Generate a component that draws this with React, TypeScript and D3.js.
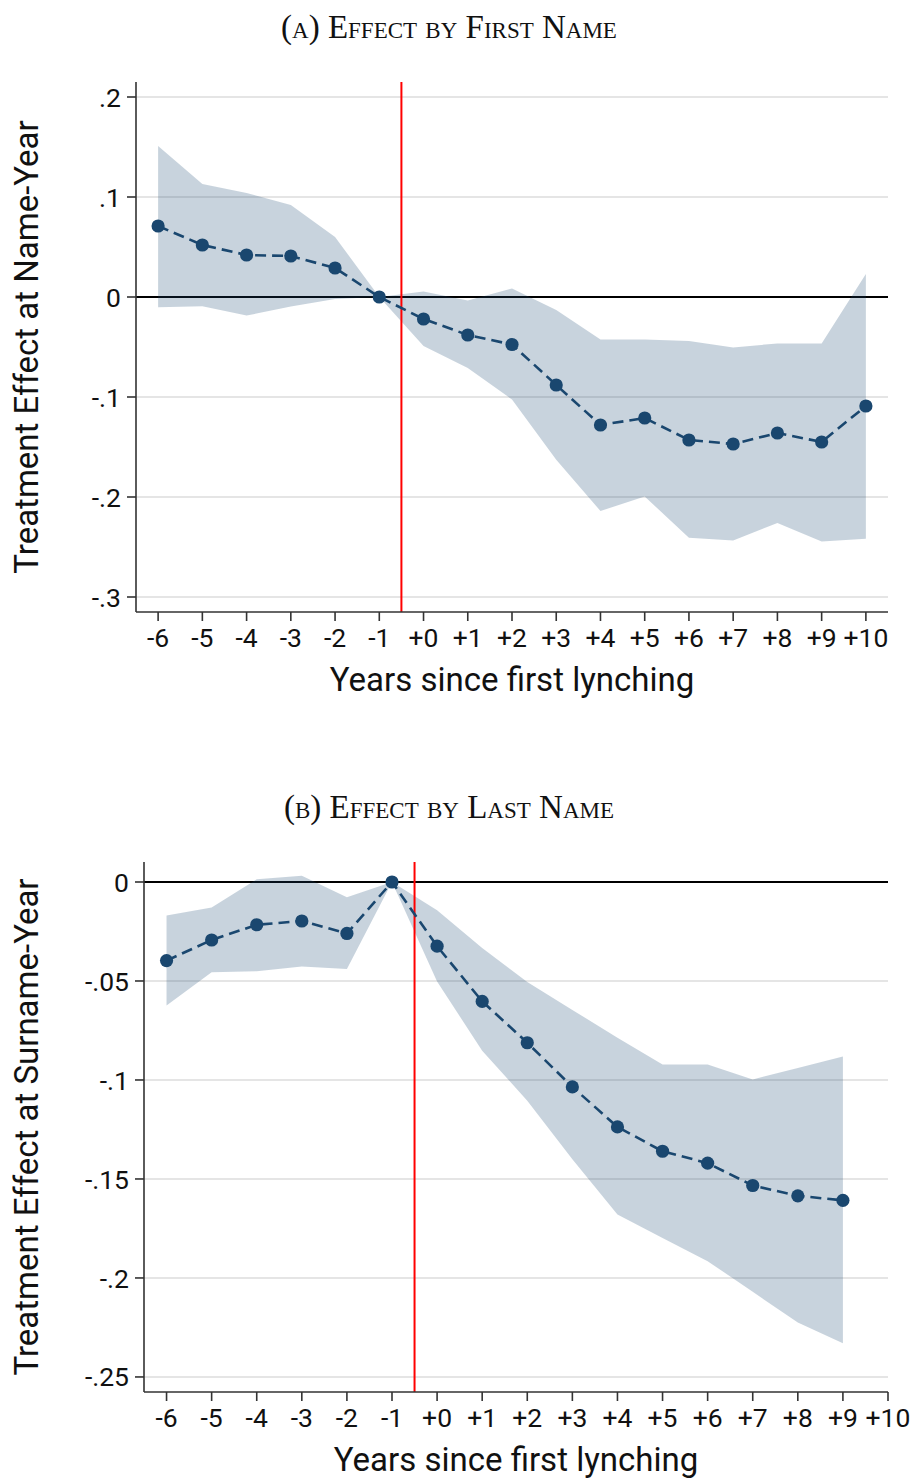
import React from "react";
import * as d3 from "d3";

// ---------- Data ----------
const firstYears = [-6, -5, -4, -3, -2, -1, 0, 1, 2, 3, 4, 5, 6, 7, 8, 9, 10];
const firstEst = [0.071, 0.052, 0.042, 0.041, 0.029, 0, -0.022, -0.038, -0.0475, -0.088, -0.128, -0.121, -0.143, -0.147, -0.136, -0.145, -0.109];
const firstHi = [0.151, 0.113, 0.104, 0.092, 0.060, 0, 0.0055, -0.0034, 0.0086, -0.013, -0.0426, -0.0426, -0.044, -0.0505, -0.0464, -0.0464, 0.023];
const firstLo = [-0.0103, -0.0093, -0.0186, -0.0096, -0.002, 0, -0.049, -0.071, -0.1025, -0.1627, -0.214, -0.1995, -0.2407, -0.2435, -0.2259, -0.2445, -0.2417];

const lastYears = [-6, -5, -4, -3, -2, -1, 0, 1, 2, 3, 4, 5, 6, 7, 8, 9];
const lastEst = [-0.0397, -0.0293, -0.0216, -0.0197, -0.026, 0, -0.0324, -0.0603, -0.0812, -0.1035, -0.1237, -0.136, -0.142, -0.1533, -0.1585, -0.1608];
const lastHi = [-0.0169, -0.0129, 0.0014, 0.0031, -0.0077, 0, -0.0143, -0.0334, -0.0505, -0.0646, -0.0787, -0.0922, -0.0922, -0.0997, -0.0939, -0.0882];
const lastLo = [-0.0624, -0.0456, -0.0451, -0.0427, -0.0439, 0, -0.0503, -0.0852, -0.1105, -0.140, -0.168, -0.1798, -0.1915, -0.207, -0.2225, -0.233];

const xTickValues = [-6, -5, -4, -3, -2, -1, 0, 1, 2, 3, 4, 5, 6, 7, 8, 9, 10];
const xTickLabels = ["-6", "-5", "-4", "-3", "-2", "-1", "+0", "+1", "+2", "+3", "+4", "+5", "+6", "+7", "+8", "+9", "+10"];

const firstYTicks = [0.2, 0.1, 0, -0.1, -0.2, -0.3];
const firstYLabels = [".2", ".1", "0", "-.1", "-.2", "-.3"];
const lastYTicks = [0, -0.05, -0.1, -0.15, -0.2, -0.25];
const lastYLabels = ["0", "-.05", "-.1", "-.15", "-.2", "-.25"];

const eventLine = -0.5;

// ---------- Styles ----------
const NAVY = "#1a476f";
const AXIS_FONT = "Roboto, 'Noto Sans', sans-serif";
const TITLE_FONT = "'Liberation Serif', 'DejaVu Serif', serif";

type PanelProps = {
  title: string;
  yTitle: string;
  years: number[];
  est: number[];
  lo: number[];
  hi: number[];
  yTicks: number[];
  yLabels: string[];
  xDomain: [number, number];
  yDomain: [number, number];
  left: number;
  right: number;
  top: number;
  bottom: number;
};

function Panel(p: PanelProps) {
  const x = d3.scaleLinear().domain(p.xDomain).range([p.left, p.right]);
  const y = d3.scaleLinear().domain(p.yDomain).range([p.bottom, p.top]);
  const idx = p.years.map((_, i) => i);
  const area = d3
    .area<number>()
    .x((i) => x(p.years[i]))
    .y0((i) => y(p.lo[i]))
    .y1((i) => y(p.hi[i]));
  const line = d3
    .line<number>()
    .x((i) => x(p.years[i]))
    .y((i) => y(p.est[i]));
  const cx = (p.left + p.right) / 2;
  const cy = (p.top + p.bottom) / 2;
  const tickLen = 9;
  return (
    <g>
      <text
        x={449}
        y={p.top - 44}
        textAnchor="middle"
        fontFamily={TITLE_FONT}
        fontSize={33}
        style={{ fontVariant: "small-caps" }}
        fill="#111"
      >
        {p.title}
      </text>
      {/* gridlines */}
      {p.yTicks.map((t) =>
        t === 0 ? null : (
          <line key={"g" + t} x1={p.left} x2={p.right} y1={y(t)} y2={y(t)} stroke="#dcdcdc" strokeWidth={1.5} />
        )
      )}
      {/* zero line */}
      <line x1={p.left} x2={p.right} y1={y(0)} y2={y(0)} stroke="#000" strokeWidth={2} />
      {/* CI band */}
      <path d={area(idx) || ""} fill={NAVY} fillOpacity={0.24} stroke="none" />
      {/* event line */}
      <line x1={x(eventLine)} x2={x(eventLine)} y1={p.top} y2={p.bottom} stroke="#ff0000" strokeWidth={2} />
      {/* estimate line */}
      <path d={line(idx) || ""} fill="none" stroke={NAVY} strokeWidth={2.6} strokeDasharray="11,6" />
      {idx.map((i) => (
        <circle key={"c" + i} cx={x(p.years[i])} cy={y(p.est[i])} r={6.6} fill={NAVY} />
      ))}
      {/* axes */}
      <line x1={p.left} x2={p.left} y1={p.top} y2={p.bottom} stroke="#333" strokeWidth={1.6} />
      <line x1={p.left} x2={p.right} y1={p.bottom} y2={p.bottom} stroke="#333" strokeWidth={1.6} />
      {p.yTicks.map((t, i) => (
        <g key={"yt" + t}>
          <line x1={p.left - tickLen} x2={p.left} y1={y(t)} y2={y(t)} stroke="#333" strokeWidth={1.6} />
          <text
            x={p.left - 15}
            y={y(t)}
            dy="0.36em"
            textAnchor="end"
            fontFamily={AXIS_FONT}
            fontSize={26.5}
            fill="#111"
          >
            {p.yLabels[i]}
          </text>
        </g>
      ))}
      {xTickValues
        .filter((t) => t >= p.xDomain[0] && t <= p.xDomain[1])
        .map((t) => (
          <g key={"xt" + t}>
            <line x1={x(t)} x2={x(t)} y1={p.bottom} y2={p.bottom + tickLen} stroke="#333" strokeWidth={1.6} />
            <text x={x(t)} y={p.bottom + 35} textAnchor="middle" fontFamily={AXIS_FONT} fontSize={26.5} fill="#111">
              {xTickLabels[xTickValues.indexOf(t)]}
            </text>
          </g>
        ))}
      <text x={cx} y={p.bottom + 79} textAnchor="middle" fontFamily={AXIS_FONT} fontSize={33} fill="#111">
        Years since first lynching
      </text>
      <text
        transform={`translate(38,${cy}) rotate(-90)`}
        textAnchor="middle"
        fontFamily={AXIS_FONT}
        fontSize={33}
        fill="#111"
      >
        {p.yTitle}
      </text>
    </g>
  );
}

export default function App() {
  return (
    <svg
      width={916}
      height={1479}
      style={{ position: "absolute", left: 0, top: 0, display: "block", background: "#fff" }}
    >
      <rect x={0} y={0} width={916} height={1479} fill="#fff" />
      <Panel
        title="(a) Effect by First Name"
        yTitle="Treatment Effect at Name-Year"
        years={firstYears}
        est={firstEst}
        lo={firstLo}
        hi={firstHi}
        yTicks={firstYTicks}
        yLabels={firstYLabels}
        xDomain={[-6.5, 10.5]}
        yDomain={[-0.315, 0.215]}
        left={136}
        right={888}
        top={82}
        bottom={612}
      />
      <Panel
        title="(b) Effect by Last Name"
        yTitle="Treatment Effect at Surname-Year"
        years={lastYears}
        est={lastEst}
        lo={lastLo}
        hi={lastHi}
        yTicks={lastYTicks}
        yLabels={lastYLabels}
        xDomain={[-6.5, 10]}
        yDomain={[-0.2576, 0.0101]}
        left={144}
        right={888}
        top={862}
        bottom={1392}
      />
    </svg>
  );
}
